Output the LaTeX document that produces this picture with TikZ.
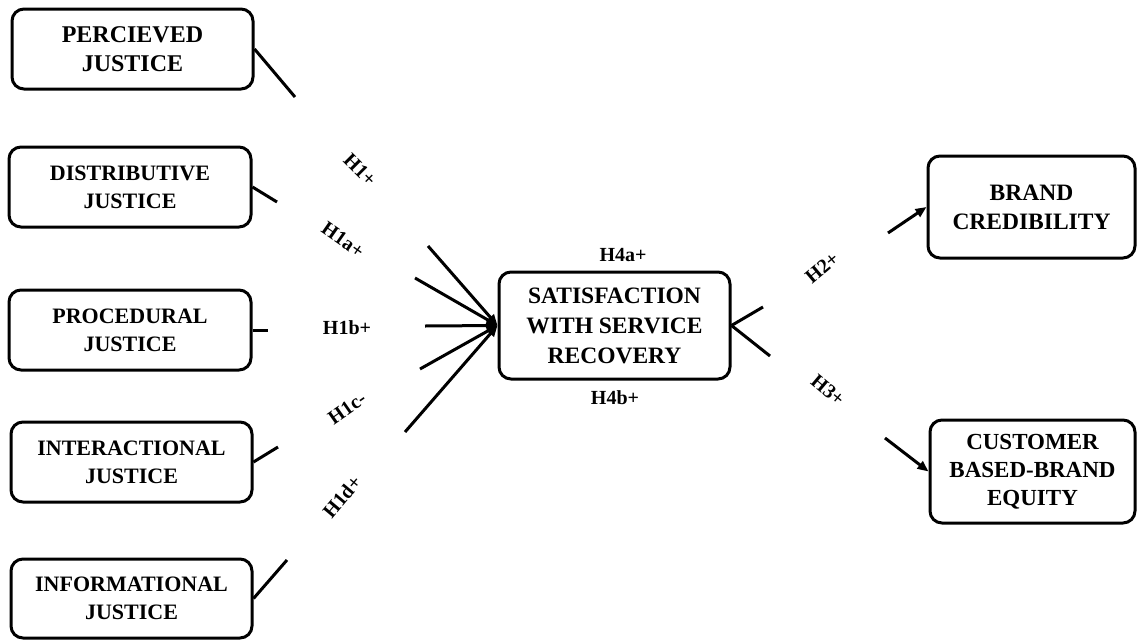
\documentclass[tikz,border=0pt]{standalone}
\usepackage{fontspec}
\setmainfont{Liberation Serif}
\usetikzlibrary{arrows.meta}
\begin{document}
\begin{tikzpicture}[x=1pt,y=-1pt,
  box/.style={draw=black,line width=3pt,rounded corners=12pt,align=center,inner sep=0pt,font=\bfseries\fontsize{22}{28}\selectfont},
  conn/.style={line width=3pt},
  arr/.style={line width=3pt,-{Triangle[length=11pt,width=9pt]}},
  lab/.style={font=\bfseries\fontsize{20}{24}\selectfont,inner sep=0pt}]
\useasboundingbox (0,0) rectangle (1137,640);
% boxes
\node[box,minimum width=241pt,minimum height=80pt,font=\bfseries\fontsize{24}{29}\selectfont] (pj) at (132.5,49) {PERCIEVED\\JUSTICE};
\node[box,minimum width=242pt,minimum height=80pt] (dj) at (130,187) {DISTRIBUTIVE\\JUSTICE};
\node[box,minimum width=242pt,minimum height=80pt] (prj) at (130,330) {PROCEDURAL\\JUSTICE};
\node[box,minimum width=241pt,minimum height=80pt] (ij) at (131.5,462) {INTERACTIONAL\\JUSTICE};
\node[box,minimum width=241pt,minimum height=79pt] (inj) at (131.5,598.5) {INFORMATIONAL\\JUSTICE};
\node[box,minimum width=231pt,minimum height=107pt,font=\bfseries\fontsize{23.5}{30}\selectfont] (ssr) at (614.5,325.5) {SATISFACTION\\WITH SERVICE\\RECOVERY};
\node[box,minimum width=207pt,minimum height=102pt,font=\bfseries\fontsize{23.5}{29}\selectfont] (bc) at (1031.5,207) {BRAND\\CREDIBILITY};
\node[box,minimum width=205pt,minimum height=103pt,font=\bfseries\fontsize{23}{28}\selectfont] (cb) at (1032.5,471.5) {CUSTOMER\\BASED-BRAND\\EQUITY};
% stub ends
\coordinate (s1) at (295,97);
\coordinate (s2) at (277,202);
\coordinate (s3) at (268,330);
\coordinate (s4) at (278,447);
\coordinate (s5) at (287,560);
\coordinate (a1) at (428,246);
\coordinate (a2) at (415,278);
\coordinate (a3) at (425,326);
\coordinate (a4) at (420,369);
\coordinate (a5) at (405,432);
\coordinate (r1) at (763,307);
\coordinate (r2) at (770,356);
\coordinate (b1) at (888,233);
\coordinate (b2) at (885,438);
% stubs from left boxes
\draw[conn] (pj.east) -- (s1);
\draw[conn] (dj.east) -- (s2);
\draw[conn] (prj.east) -- (s3);
\draw[conn] (ij.east) -- (s4);
\draw[conn] (inj.east) -- (s5);
% arrows into center
\draw[arr] (a1) -- (ssr.west);
\draw[arr] (a2) -- (ssr.west);
\draw[arr] (a3) -- (ssr.west);
\draw[arr] (a4) -- (ssr.west);
\draw[arr] (a5) -- (ssr.west);
% stubs from center
\draw[conn] (ssr.east) -- (r1);
\draw[conn] (ssr.east) -- (r2);
% arrows into right boxes
\draw[arr] (b1) -- (bc.west);
\draw[arr] (b2) -- (cb.west);
% labels
\node[lab,rotate=-45] (l1) at (360,170) {H1+};
\node[lab,rotate=-35] (l1a) at (343,240) {H1a+};
\node[lab] (l1b) at (347,328) {H1b+};
\node[lab,rotate=35] (l1c) at (347,408) {H1c-};
\node[lab,rotate=50] (l1d) at (342,497) {H1d+};
\node[lab] (l4a) at (623,255) {H4a+};
\node[lab] (l4b) at (615,398) {H4b+};
\node[lab,rotate=40] (l2) at (822,268) {H2+};
\node[lab,rotate=-40] (l3) at (828,390) {H3+};
\end{tikzpicture}
\end{document}
